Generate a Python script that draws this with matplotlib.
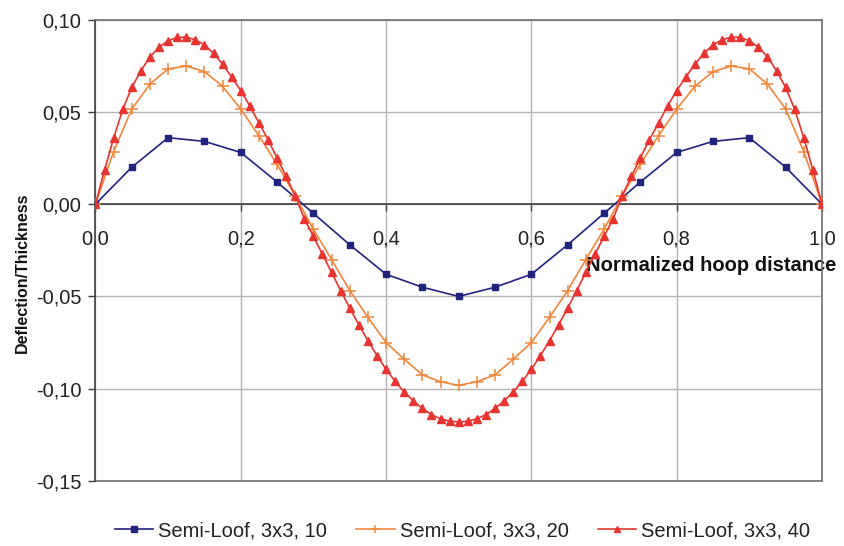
import matplotlib
matplotlib.use("Agg")
import matplotlib.pyplot as plt
from matplotlib.ticker import FuncFormatter

plt.rcParams['font.family'] = ['Liberation Sans', 'DejaVu Sans']

# ---- data ----
x10 = [0.00, 0.05, 0.10, 0.15, 0.20, 0.25, 0.30, 0.35, 0.40, 0.45, 0.50,
       0.55, 0.60, 0.65, 0.70, 0.75, 0.80, 0.85, 0.90, 0.95, 1.00]
y10 = [0.000, 0.020, 0.036, 0.034, 0.028, 0.012, -0.005, -0.022, -0.038, -0.045, -0.050,
       -0.045, -0.038, -0.022, -0.005, 0.012, 0.028, 0.034, 0.036, 0.020, 0.000]

x20 = [0.000, 0.025, 0.050, 0.075, 0.100, 0.125, 0.150, 0.175, 0.200, 0.225, 0.250,
       0.275, 0.300, 0.325, 0.350, 0.375, 0.400, 0.425, 0.450, 0.475, 0.500,
       0.525, 0.550, 0.575, 0.600, 0.625, 0.650, 0.675, 0.700, 0.725, 0.750,
       0.775, 0.800, 0.825, 0.850, 0.875, 0.900, 0.925, 0.950, 0.975, 1.000]
y20 = [0.0000, 0.0285, 0.0515, 0.0650, 0.0733, 0.0748, 0.0718, 0.0638, 0.0515, 0.0370, 0.0216,
       0.0045, -0.0136, -0.0300, -0.0468, -0.0613, -0.0750, -0.0840, -0.0925, -0.0962, -0.0982,
       -0.0962, -0.0925, -0.0840, -0.0750, -0.0613, -0.0468, -0.0300, -0.0136, 0.0045, 0.0216,
       0.0370, 0.0515, 0.0638, 0.0718, 0.0748, 0.0733, 0.0650, 0.0515, 0.0285, 0.0000]

x40 = [0.0000, 0.0125, 0.0250, 0.0375, 0.0500, 0.0625, 0.0750, 0.0875, 0.1000, 0.1125,
       0.1250, 0.1375, 0.1500, 0.1625, 0.1750, 0.1875, 0.2000, 0.2125, 0.2250, 0.2375,
       0.2500, 0.2625, 0.2750, 0.2875, 0.3000, 0.3125, 0.3250, 0.3375, 0.3500, 0.3625,
       0.3750, 0.3875, 0.4000, 0.4125, 0.4250, 0.4375, 0.4500, 0.4625, 0.4750, 0.4875,
       0.5000, 0.5125, 0.5250, 0.5375, 0.5500, 0.5625, 0.5750, 0.5875, 0.6000, 0.6125,
       0.6250, 0.6375, 0.6500, 0.6625, 0.6750, 0.6875, 0.7000, 0.7125, 0.7250, 0.7375,
       0.7500, 0.7625, 0.7750, 0.7875, 0.8000, 0.8125, 0.8250, 0.8375, 0.8500, 0.8625,
       0.8750, 0.8875, 0.9000, 0.9125, 0.9250, 0.9375, 0.9500, 0.9625, 0.9750, 0.9875,
       1.0000]
y40 = [0.0000, 0.0185, 0.0358, 0.0513, 0.0632, 0.0722, 0.0798, 0.0850, 0.0885, 0.0903,
       0.0905, 0.0890, 0.0863, 0.0817, 0.0758, 0.0688, 0.0615, 0.0532, 0.0440, 0.0350,
       0.0250, 0.0150, 0.0045, -0.0080, -0.0175, -0.0272, -0.0370, -0.0468, -0.0563, -0.0653,
       -0.0740, -0.0820, -0.0895, -0.0960, -0.1018, -0.1066, -0.1107, -0.1140, -0.1163, -0.1176,
       -0.1180, -0.1176, -0.1163, -0.1140, -0.1107, -0.1066, -0.1018, -0.0960, -0.0895, -0.0820,
       -0.0740, -0.0653, -0.0563, -0.0468, -0.0370, -0.0272, -0.0175, -0.0080, 0.0045, 0.0150,
       0.0250, 0.0350, 0.0440, 0.0532, 0.0615, 0.0688, 0.0758, 0.0817, 0.0863, 0.0890,
       0.0905, 0.0903, 0.0885, 0.0850, 0.0798, 0.0722, 0.0632, 0.0513, 0.0358, 0.0185,
       0.0000]

labels = ["Semi-Loof, 3x3, 10", "Semi-Loof, 3x3, 20", "Semi-Loof, 3x3, 40"]
xticks = [0.0, 0.2, 0.4, 0.6, 0.8, 1.0]
yticks = [-0.15, -0.10, -0.05, 0.00, 0.05, 0.10]

# ---- figure ----
fig = plt.figure(figsize=(8.44, 5.46), dpi=100)
ax = fig.add_axes([0.1131, 0.1190, 0.8608, 0.8452])

ax.plot(x10, y10, color='#22227f', lw=1.2, marker='s', ms=5, label=labels[0], zorder=3)
ax.plot(x20, y20, color='#f0873a', lw=1.2, marker='+', ms=8, mew=1.1, label=labels[1], zorder=4)
ax.plot(x40, y40, color='#e8332f', lw=1.2, marker='^', ms=5.5, label=labels[2], zorder=5)

ax.set_xlim(0, 1)
ax.set_ylim(-0.15, 0.10)
ax.set_xticks(xticks)
ax.set_yticks(yticks)
ax.xaxis.set_major_formatter(FuncFormatter(lambda v, p: f"{v:.1f}".replace('.', ',')))
ax.yaxis.set_major_formatter(FuncFormatter(lambda v, p: f"{v:.2f}".replace('.', ',')))

ax.grid(True, color='#b4b4b4', lw=1.0, zorder=0)
ax.set_axisbelow(True)

for s in ['top', 'right']:
    ax.spines[s].set_color('#707070')
    ax.spines[s].set_linewidth(1.2)
ax.spines['left'].set_color('#404040')
ax.spines['left'].set_linewidth(1.2)
ax.spines['bottom'].set_position(('data', 0))
ax.spines['bottom'].set_color('#404040')
ax.spines['bottom'].set_linewidth(1.2)
ax.axhline(-0.15, color='#707070', lw=1.2, clip_on=False, zorder=1)

ax.tick_params(axis='x', direction='out', length=5, width=1, color='#404040',
               pad=13, labelsize=14.5, labelcolor='#222222')
ax.tick_params(axis='y', direction='out', length=5, width=1, color='#404040',
               pad=5, labelsize=14.5, labelcolor='#222222')

ax.set_xlabel("Normalized hoop distance", fontsize=14.5, fontweight='bold', color='#111111')
ax.xaxis.set_label_coords(0.847, 0.488)
ax.xaxis.label.set_verticalalignment('top')
ax.set_ylabel("Deflection/Thickness", fontsize=11.5, fontweight='bold', color='#111111')
ax.yaxis.set_label_coords(-0.090, 0.451)

fig.legend(loc='center', bbox_to_anchor=(0.548, 0.028), ncol=3, frameon=False,
           fontsize=14.5, handlelength=1.9, handletextpad=0.25, columnspacing=1.45,
           markerscale=0.75, labelcolor='#222222')

fig.savefig("out.png", dpi=100)
